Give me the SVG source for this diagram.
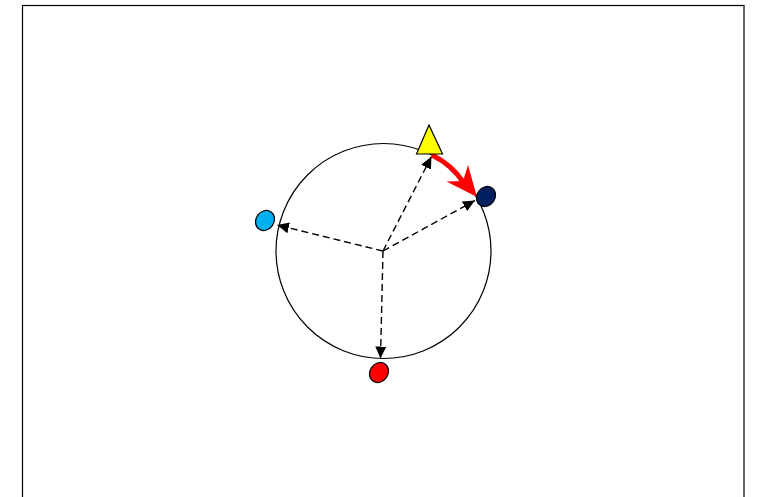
<svg xmlns="http://www.w3.org/2000/svg" width="759" height="497" viewBox="0 0 759 497">
<style>
.dash{stroke:#000;stroke-width:1.4;stroke-dasharray:7 4;fill:none}
.node{stroke:#000;stroke-width:1.2}
</style>
<defs>
<marker id="ah" markerWidth="12" markerHeight="11" refX="12" refY="5.5" orient="auto" markerUnits="userSpaceOnUse" viewBox="0 0 12 11">
<path d="M0,0 L12,5.5 L0,11 z" fill="#000"/>
</marker>
</defs>
<rect x="0" y="0" width="759" height="497" fill="#fff"/>
<rect x="22.5" y="5.5" width="721.5" height="500" fill="none" stroke="#000" stroke-width="1.2"/>
<circle cx="383.5" cy="251" r="107.5" fill="none" stroke="#000" stroke-width="1.2"/>
<g id="connectors">
<line class="dash" x1="383" y1="251" x2="277" y2="225" marker-end="url(#ah)"/>
<line class="dash" x1="383" y1="251" x2="380.5" y2="358.5" marker-end="url(#ah)"/>
<line class="dash" x1="383" y1="251" x2="431.5" y2="156.5" marker-end="url(#ah)"/>
<line class="dash" x1="383" y1="251" x2="475" y2="200.5" marker-end="url(#ah)"/>
<path d="M432,155 Q452,165 463,182" fill="none" stroke="#ff0000" stroke-width="5"/>
<path d="M477,197 L468,165 L463,181 L446.5,181.5 z" fill="#ff0000"/>
</g>
<g id="triangle"><polygon class="node" points="429,125 416.5,154 442.5,154" fill="#ffff00"/></g>
<g id="navy"><ellipse class="node" cx="486" cy="196.5" rx="9" ry="10.5" transform="rotate(35 486 196.5)" fill="#002060"/></g>
<g id="lightblue"><ellipse class="node" cx="265" cy="220.5" rx="9" ry="10.5" transform="rotate(35 265 220.5)" fill="#00b0f0"/></g>
<g id="red"><ellipse class="node" cx="379" cy="372.5" rx="9" ry="10.5" transform="rotate(35 379 372.5)" fill="#ff0000"/></g>
</svg>
